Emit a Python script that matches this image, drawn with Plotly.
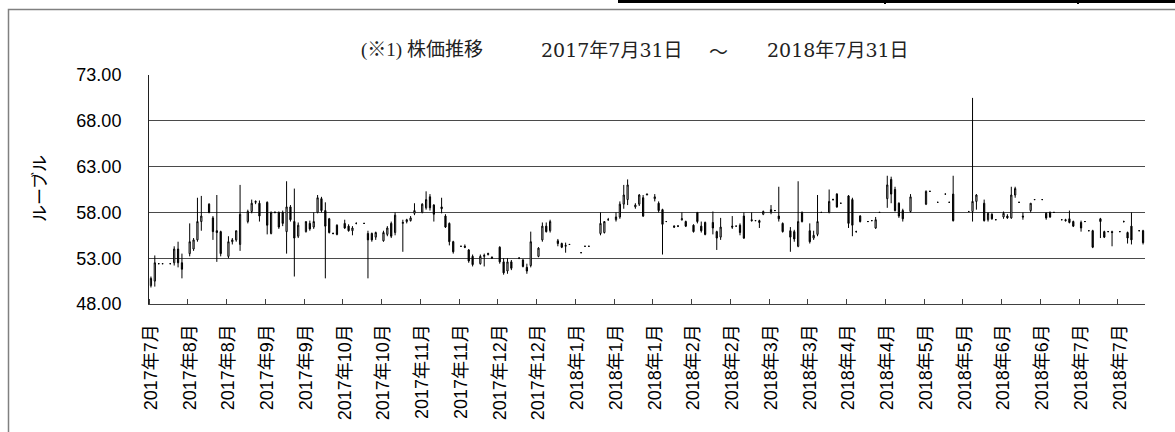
import plotly.graph_objects as go

# ---- data (None = no trade drawn) ----
N = 257
open_ = [
 50.0, 50.5, 52.4, 52.4, None, 52.4, 52.5, 54.0, 52.5, None,
 53.5, 54.0, 55.0, 57.0, None, 58.9, 57.4, 56.0, 55.9, None,
 53.2, 54.8, 55.0, 54.5, None, 57.0, 58.1, 59.1, 59.0, None,
 59.1, 55.7, 58.0, 58.0, 58.0, 55.9, 58.6, 57.0, 55.4, None,
 55.9, 56.8, 56.4, 58.0, 59.5, 58.2, 57.3, 55.7, 56.6, None,
 56.8, 56.5, 56.0, 56.8, None, 56.8, 55.7, 55.7, 55.3, None,
 54.9, 55.6, 56.8, 55.8, None, 56.8, 57.0, 57.1, 57.9, None,
 58.0, 58.5, 59.7, 58.8, None, 58.6, 57.6, 56.8, 54.8, None,
 54.3, 54.3, 53.9, 53.2, None, 52.4, 53.2, 53.4, 53.1, None,
 54.2, 52.6, 51.6, 52.6, None, 53.0, 52.8, 52.0, 52.2, None,
 53.2, 55.0, 56.5, 56.0, None, 54.9, 54.6, 54.3, 54.5, None,
 None, 53.6, 54.3, 54.3, None, None, 55.7, 55.8, 57.2, None,
 57.2, 57.5, 58.9, 59.4, None, 58.6, 58.9, 59.6, 59.9, None,
 59.5, 59.0, 58.3, 57.0, None, 56.5, 56.5, 57.2, 57.0, None,
 56.6, 58.0, 56.5, 56.9, None, 56.9, 55.9, 55.3, None, None,
 56.5, 56.5, 56.6, 57.6, None, 57.2, 57.1, 57.1, 57.8, None,
 58.0, 58.2, 57.6, 56.8, None, 56.0, 55.9, 54.3, 58.0, None,
 56.0, 55.2, 55.6, 58.0, None, 58.0, 59.4, 60.0, 59.0, None,
 59.8, 59.4, 55.9, 57.6, None, 57.0, 57.1, 56.3, 58.0, None,
 59.5, 61.6, 60.5, 59.0, 58.2, None, 58.1, None, None, None,
 58.9, 60.3, None, 59.1, None, 60.0, 59.1, 60.0, None, None,
 None, 58.1, 58.1, 59.2, None, 59.0, 57.2, 57.8, 57.2, None,
 57.5, 57.6, 57.4, 59.9, 59.1, 57.6, None, 58.2, 59.4, None,
 59.4, 57.9, 58.0, 58.0, None, 57.2, 57.2, 57.3, 57.0, None,
 56.9, 57.0, 56.0, 56.0, None, 57.3, 55.9, 55.9, 55.9, None,
 55.9, 57.0, 55.8, 56.5, None, 56.0, 56.0,
]
high = [
 51.0, 53.3, 52.4, 52.4, None, 52.4, 54.3, 54.8, 53.5, None,
 56.8, 55.2, 59.6, 59.8, None, 59.0, 57.6, 59.9, 56.0, None,
 55.4, 55.2, 56.0, 61.0, None, 58.3, 59.4, 59.3, 59.3, None,
 59.2, 58.1, 58.1, 58.1, 58.2, 61.4, 58.8, 60.6, 56.9, None,
 57.0, 57.1, 58.0, 59.9, 59.7, 59.1, 57.4, 55.8, 56.7, None,
 57.2, 56.7, 56.5, 56.9, None, 56.8, 56.0, 55.8, 55.9, None,
 56.0, 56.5, 57.0, 58.0, None, 57.2, 57.3, 57.6, 59.0, None,
 59.0, 60.3, 60.0, 58.9, None, 59.6, 57.8, 56.9, 54.9, None,
 54.3, 54.5, 54.0, 53.4, None, 53.4, 53.5, 53.6, 53.2, None,
 54.3, 53.0, 53.0, 52.8, None, 53.1, 52.9, 52.4, 55.9, None,
 54.2, 56.9, 56.9, 57.2, None, 55.1, 54.7, 54.7, 54.5, None,
 None, 53.6, 54.3, 54.3, None, None, 58.0, 57.0, 57.4, None,
 58.0, 59.2, 61.0, 61.6, None, 59.0, 60.0, 59.9, 60.0, None,
 60.0, 59.2, 58.4, 57.0, None, 56.6, 56.6, 58.0, 57.1, None,
 56.7, 58.0, 57.0, 57.0, None, 58.1, 56.0, 57.4, None, None,
 57.6, 56.5, 56.8, 58.0, None, 58.0, 57.1, 57.2, 58.2, None,
 58.8, 58.2, 60.8, 56.9, None, 56.4, 56.1, 61.4, 58.1, None,
 56.8, 56.0, 59.9, 58.0, None, 60.5, 59.5, 60.1, 59.0, None,
 59.9, 59.6, 56.0, 57.7, None, 57.0, 57.1, 57.5, 58.0, None,
 62.0, 61.9, 60.8, 59.1, 58.4, None, 60.0, None, None, None,
 60.4, 60.3, None, 59.1, None, 60.0, 59.1, 62.0, None, None,
 None, 58.1, 70.5, 60.0, None, 59.4, 58.0, 57.9, 57.2, None,
 58.1, 57.8, 60.8, 60.8, 59.1, 58.0, None, 59.0, 59.4, None,
 59.4, 58.0, 58.1, 58.0, None, 57.2, 57.3, 58.2, 57.1, None,
 57.1, 57.0, 56.0, 56.1, None, 57.4, 56.0, 55.9, 56.0, None,
 55.9, 57.1, 55.9, 58.0, None, 56.0, 56.1,
]
low = [
 49.8, 49.9, 52.4, 52.4, None, 52.4, 52.2, 52.0, 50.8, None,
 53.2, 53.8, 54.8, 56.0, None, 57.9, 55.0, 52.6, 53.2, None,
 53.0, 54.5, 54.8, 53.8, None, 56.8, 57.9, 58.9, 57.0, None,
 55.6, 55.6, 57.9, 56.2, 56.5, 53.5, 57.0, 51.0, 55.2, None,
 55.8, 56.0, 56.2, 57.9, 58.0, 50.8, 55.7, 55.6, 55.5, None,
 56.2, 55.9, 55.5, 56.7, None, 56.8, 50.8, 54.8, 55.0, None,
 54.8, 55.4, 55.2, 55.5, None, 53.7, 56.8, 57.0, 57.7, None,
 57.9, 58.3, 58.2, 57.0, None, 57.9, 56.3, 54.4, 53.5, None,
 54.3, 54.1, 52.5, 52.1, None, 52.3, 52.1, 53.3, 53.0, None,
 52.4, 51.2, 51.3, 51.7, None, 52.9, 52.0, 51.3, 52.0, None,
 53.1, 54.8, 55.8, 55.8, None, 54.3, 54.1, 53.6, 54.5, None,
 None, 53.6, 54.3, 54.3, None, None, 55.5, 55.7, 57.1, None,
 57.0, 57.3, 58.4, 58.8, None, 58.4, 58.7, 57.5, 59.9, None,
 59.2, 58.0, 53.4, 57.0, None, 56.3, 56.4, 57.1, 56.4, None,
 55.8, 56.8, 55.8, 55.5, None, 55.6, 53.9, 55.0, None, None,
 56.2, 56.5, 55.5, 55.1, None, 57.0, 57.1, 56.3, 57.7, None,
 57.8, 58.2, 57.0, 55.8, None, 53.7, 54.8, 54.2, 56.9, None,
 54.6, 55.0, 55.4, 58.0, None, 57.9, 59.3, 58.5, 59.0, None,
 56.3, 55.4, 55.8, 56.9, None, 57.0, 57.1, 56.2, 58.0, None,
 58.5, 59.0, 58.1, 57.4, 57.0, None, 58.0, None, None, None,
 58.8, 60.3, None, 59.1, None, 60.0, 59.1, 57.0, None, None,
 None, 58.1, 57.0, 58.3, None, 57.0, 57.0, 57.2, 57.2, None,
 57.3, 57.3, 57.3, 59.6, 59.1, 57.2, None, 58.0, 59.4, None,
 59.4, 57.2, 57.4, 58.0, None, 57.2, 57.0, 56.8, 56.4, None,
 55.9, 57.0, 56.0, 54.1, None, 55.2, 55.2, 55.9, 54.3, None,
 55.9, 56.9, 54.6, 54.5, None, 56.0, 54.5,
]
close = [
 50.8, 52.5, 52.4, 52.4, None, 52.4, 54.0, 52.5, 51.8, None,
 54.8, 55.0, 57.0, 57.6, None, 58.0, 55.9, 55.8, 53.5, None,
 54.8, 55.0, 56.0, 57.8, None, 58.1, 59.0, 59.2, 57.6, None,
 56.6, 58.0, 58.0, 56.4, 56.8, 58.6, 57.2, 55.2, 56.6, None,
 57.0, 56.2, 57.0, 59.6, 58.2, 56.5, 55.8, 55.7, 55.6, None,
 56.3, 56.0, 56.3, 56.8, None, 56.8, 55.0, 55.0, 55.8, None,
 55.8, 56.3, 55.4, 57.7, None, 56.9, 57.2, 57.4, 58.2, None,
 58.9, 59.4, 58.5, 57.8, None, 58.4, 56.4, 54.8, 53.7, None,
 54.3, 54.2, 52.7, 52.3, None, 53.2, 53.3, 53.5, 53.0, None,
 52.6, 51.4, 52.6, 51.9, None, 53.0, 52.1, 51.6, 54.8, None,
 54.1, 56.5, 55.9, 57.0, None, 54.6, 54.2, 54.4, 54.5, None,
 None, 53.6, 54.3, 54.3, None, None, 56.8, 57.0, 57.2, None,
 57.5, 58.9, 59.9, 61.0, None, 58.8, 59.9, 57.6, 60.0, None,
 59.7, 58.2, 56.7, 57.0, None, 56.4, 56.5, 57.3, 56.5, None,
 55.9, 57.0, 56.0, 55.6, None, 56.3, 55.2, 56.4, None, None,
 56.4, 56.5, 55.8, 55.2, None, 57.1, 57.1, 56.9, 58.1, None,
 58.3, 58.2, 57.3, 55.9, None, 55.3, 55.1, 57.0, 57.0, None,
 54.8, 55.5, 57.0, 58.0, None, 59.2, 59.4, 58.6, 59.0, None,
 56.8, 56.6, 55.9, 57.0, None, 57.0, 57.1, 57.2, 58.0, None,
 61.0, 60.0, 58.2, 57.6, 57.3, None, 59.7, None, None, None,
 60.3, 60.3, None, 59.1, None, 60.0, 59.1, 57.1, None, None,
 None, 58.1, 59.2, 59.9, None, 57.1, 57.9, 57.3, 57.2, None,
 57.9, 57.4, 59.9, 60.6, 59.1, 57.5, None, 59.0, 59.4, None,
 59.4, 57.4, 57.5, 58.0, None, 57.2, 57.1, 56.9, 56.5, None,
 56.3, 57.0, 56.0, 54.2, None, 57.0, 55.3, 55.9, 55.8, None,
 55.9, 57.0, 55.2, 55.0, None, 56.0, 54.7,
]
tick_labels = [
 "2017年7月", "2017年8月", "2017年8月", "2017年9月", "2017年9月",
 "2017年10月", "2017年10月", "2017年11月", "2017年11月", "2017年12月",
 "2017年12月", "2018年1月", "2018年1月", "2018年1月", "2018年2月",
 "2018年2月", "2018年3月", "2018年3月", "2018年4月", "2018年4月",
 "2018年5月", "2018年5月", "2018年6月", "2018年6月", "2018年7月",
 "2018年7月",
]
y_ticks = [48, 53, 58, 63, 68, 73]
title_parts = ["(※1) 株価推移", "2017年7月31日", "～", "2018年7月31日"]
title_centers = [422, 612, 718, 838]  # pixel x of each title piece
title_fonts = ["Liberation Serif, Noto Sans CJK JP",
               "DejaVu Serif, Noto Sans CJK JP",
               "Noto Sans CJK JP",
               "DejaVu Serif, Noto Sans CJK JP"]
y_title = "ルーブル"

x = list(range(N))
tick_pos = [10 * k for k in range(len(tick_labels))]

# ---- geometry helpers (pixel -> paper) ----
W, H = 1175, 432
ML, MR, MT, MB = 149, 30, 75, 128
PW, PH = W - ML - MR, H - MT - MB


def px(xp):
    return (xp - ML) / PW


def py(yp):
    return (H - MB - yp) / PH


fig = go.Figure(go.Candlestick(
    x=x, open=open_, high=high, low=low, close=close,
    increasing=dict(line=dict(color="black", width=1), fillcolor="white"),
    decreasing=dict(line=dict(color="black", width=1), fillcolor="black"),
    whiskerwidth=0,
    hoverinfo="skip",
    showlegend=False,
))

fig.update_layout(
    width=W, height=H,
    margin=dict(l=ML, r=MR, t=MT, b=MB, pad=0),
    paper_bgcolor="white", plot_bgcolor="white",
    showlegend=False,
    boxgap=0.55,
    font=dict(family="Liberation Sans, Arial, Noto Sans CJK JP", color="black"),
)

fig.update_xaxes(
    range=[-0.5, N - 0.5],
    rangeslider=dict(visible=False),
    tickmode="array", tickvals=tick_pos, ticktext=tick_labels,
    tickangle=-90, ticks="", ticklabelstandoff=12,
    tickfont=dict(size=18, family="Liberation Sans, Noto Sans CJK JP", color="black"),
    showgrid=False, zeroline=False,
    showline=True, linecolor="#404040", linewidth=1,
    minor=dict(ticks="inside", ticklen=5, tickcolor="#404040", tickwidth=1,
               tick0=-0.5, dtick=10, showgrid=False),
)
fig.update_yaxes(
    range=[48, 73], tickmode="array", tickvals=y_ticks, tickformat=".2f",
    ticks="", ticklabelstandoff=23,
    tickfont=dict(size=18, family="Liberation Sans, Arial", color="black"),
    showgrid=True, gridcolor="#4a4a4a", gridwidth=1, zeroline=False,
    showline=True, linecolor="#202020", linewidth=1,
)

for part, cx, fam in zip(title_parts, title_centers, title_fonts):
    fig.add_annotation(
        text=part, xref="paper", yref="paper", x=px(cx), y=py(50),
        xanchor="center", yanchor="middle", showarrow=False,
        font=dict(size=19, family=fam, color="#222"),
    )
fig.add_annotation(
    text=y_title, xref="paper", yref="paper", x=px(38), y=py(189),
    xanchor="center", yanchor="middle", showarrow=False, textangle=-90,
    font=dict(size=17, family="Noto Sans CJK JP", color="black"),
)

# outer chart frame
fig.add_shape(type="rect", xref="paper", yref="paper",
              x0=px(8.5), x1=px(1185), y0=py(9.5), y1=py(445),
              line=dict(color="#808080", width=1.5), fillcolor="rgba(0,0,0,0)",
              layer="above")
# table fragment at top
fig.add_shape(type="line", xref="paper", yref="paper",
              x0=px(618), x1=px(1180), y0=py(1.5), y1=py(1.5),
              line=dict(color="black", width=3))
for xv in (885, 1078):
    fig.add_shape(type="line", xref="paper", yref="paper",
                  x0=px(xv), x1=px(xv), y0=py(-1), y1=py(4),
                  line=dict(color="black", width=2))

fig.write_html("out.html", config={"displayModeBar": False},
               post_script="document.body.style.margin='0';document.body.style.overflow='hidden';")
